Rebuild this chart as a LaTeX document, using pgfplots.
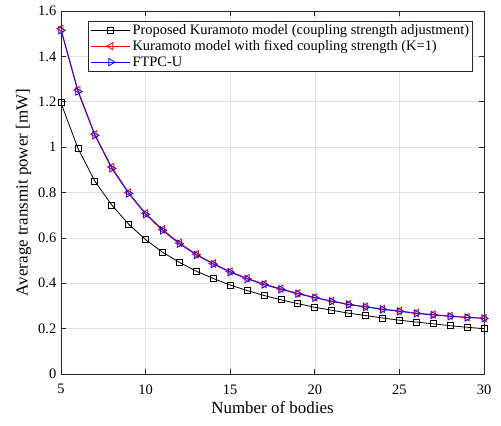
\documentclass[border=0pt]{standalone}
\usepackage{fontspec}
\setmainfont{Liberation Serif}
\usepackage{pgfplots}
\pgfplotsset{compat=1.18}
\definecolor{axgray}{rgb}{0.15,0.15,0.15}
\definecolor{gridgray}{rgb}{0.88,0.88,0.88}
\begin{document}
\begin{tikzpicture}
\begin{axis}[
  scale only axis,
  width=423bp, height=363bp,
  xmin=5, xmax=30, ymin=0, ymax=1.6,
  xtick={5,10,15,20,25,30},
  ytick={0,0.2,0.4,0.6,0.8,1,1.2,1.4,1.6},
  yticklabels={0,0.2,0.4,0.6,0.8,1,1.2,1.4,1.6},
  /pgf/number format/assume math mode=true,
  tick label style={font=\fontsize{14.5}{17}\selectfont},
  xticklabel shift=7bp,
  yticklabel shift=1.2bp,
  label style={font=\fontsize{17}{20}\selectfont},
  xlabel={Number of bodies},
  ylabel={Average transmit power [mW]},
  grid=major,
  major grid style={gridgray, line width=0.6bp},
  axis line style={axgray, line width=0.7bp},
  tick style={axgray, line width=0.7bp},
  tick align=inside,
  major tick length=5bp,
  xtick pos=both, ytick pos=both,
  legend style={at={(rel axis cs:1,1)}, anchor=north east, xshift=-11bp, yshift=-10bp,
    font=\fontsize{14.5}{17}\selectfont, draw=axgray, line width=0.7bp,
    inner xsep=1.5bp, inner ysep=0.85bp, row sep=0bp, column sep=0bp,
    cells={anchor=west, inner xsep=2bp, inner ysep=2bp, text height=10.5bp, text depth=3.5bp}},
  legend cell align=left,
  legend image code/.code={\path (0bp,0bp); \draw[mark repeat=2,mark phase=2,#1] plot coordinates {(1.3bp,0bp) (20.65bp,0bp) (40bp,0bp)};},
]
\addplot[black, line width=0.8bp, mark=square, mark size=3bp, mark options={solid}] coordinates {
(5,1.195)(6,0.995)(7,0.850)(8,0.745)(9,0.660)(10,0.592)(11,0.537)(12,0.492)(13,0.453)(14,0.421)(15,0.392)(16,0.368)(17,0.346)(18,0.327)(19,0.310)(20,0.294)(21,0.281)(22,0.268)(23,0.258)(24,0.247)(25,0.237)(26,0.229)(27,0.221)(28,0.213)(29,0.206)(30,0.200)};
\addlegendentry{Proposed Kuramoto model (coupling strength adjustment)}
\addplot[red, line width=0.8bp, mark=triangle, mark size=4.2bp, mark options={solid, rotate=90}] coordinates {
(5,1.522)(6,1.252)(7,1.057)(8,0.912)(9,0.800)(10,0.708)(11,0.637)(12,0.578)(13,0.528)(14,0.487)(15,0.452)(16,0.422)(17,0.397)(18,0.376)(19,0.356)(20,0.338)(21,0.322)(22,0.308)(23,0.297)(24,0.287)(25,0.278)(26,0.269)(27,0.262)(28,0.256)(29,0.250)(30,0.246)};
\addlegendentry{Kuramoto model with fixed coupling strength (K=1)}
\addplot[blue, line width=0.8bp, mark=triangle, mark size=4.2bp, mark options={solid, rotate=-90}] coordinates {
(5,1.515)(6,1.245)(7,1.052)(8,0.906)(9,0.796)(10,0.704)(11,0.633)(12,0.574)(13,0.525)(14,0.484)(15,0.449)(16,0.419)(17,0.394)(18,0.373)(19,0.353)(20,0.336)(21,0.320)(22,0.306)(23,0.295)(24,0.285)(25,0.276)(26,0.267)(27,0.260)(28,0.254)(29,0.249)(30,0.245)};
\addlegendentry{FTPC-U}
\end{axis}
\pgfresetboundingbox
\path[use as bounding box] ([shift={(-61bp,-52bp)}]current axis.south west) rectangle ([shift={(17bp,11bp)}]current axis.north east);
\end{tikzpicture}
\end{document}
